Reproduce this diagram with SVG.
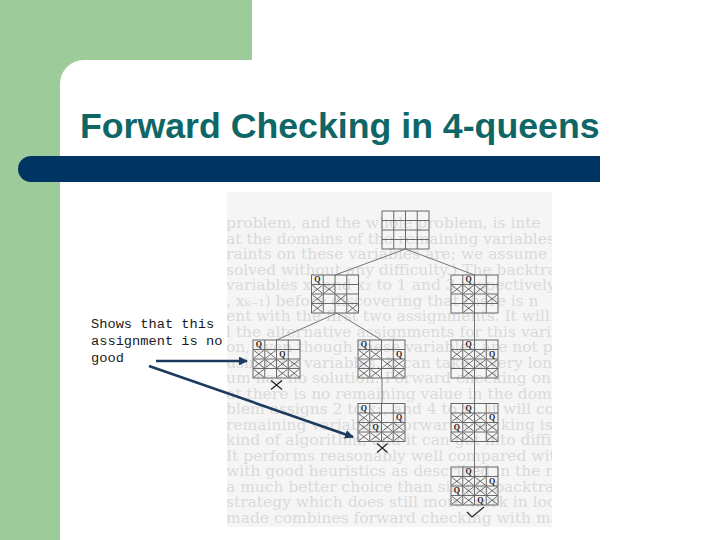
<svg xmlns="http://www.w3.org/2000/svg" xmlns:xlink="http://www.w3.org/1999/xlink" width="720" height="540" viewBox="0 0 720 540">
<style>
.grid{fill:none;stroke:#5a5a5a;stroke-width:0.9}
.xc{fill:none;stroke:#4a4a4a;stroke-width:0.8}
.q{font-family:"Liberation Serif","DejaVu Serif",serif;font-weight:bold;font-size:8px;fill:#222;text-anchor:middle}
.edge{fill:none;stroke:#666;stroke-width:0.9}
.mark{fill:none;stroke:#222;stroke-width:1.2}
.arrow{fill:none;stroke:#1b3a5e;stroke-width:2.6}
.label{font-family:"Liberation Mono","DejaVu Sans Mono",monospace;font-size:13.7px;fill:#1a1a1a}
.faint{font-family:"DejaVu Serif","Liberation Serif",serif;font-size:15.5px;fill:#dadada}
</style>
<defs>
<g id="grid">
<rect class="grid" x="0" y="0" width="47" height="38"/>
<path class="grid" d="M11.75,0V38M23.5,0V38M35.25,0V38M0,9.5H47M0,19H47M0,28.5H47"/>
</g>
<path id="xc" class="xc" d="M0.9,0.9L10.85,8.6M10.85,0.9L0.9,8.6"/>
<marker id="ah" viewBox="0 0 10 10" refX="9" refY="5" markerWidth="3.4" markerHeight="3.4" orient="auto" markerUnits="strokeWidth">
<path d="M0,0L10,5L0,10z" fill="#1b3a5e"/>
</marker>
<clipPath id="scanclip"><rect x="227" y="192" width="325" height="335"/></clipPath>
</defs>

<rect x="0" y="0" width="720" height="540" fill="#ffffff"/>
<g id="frame">
<rect x="0" y="0" width="252" height="90" fill="#9dcb9a"/>
<rect x="0" y="0" width="90" height="540" fill="#9dcb9a"/>
<rect x="60" y="60" width="700" height="520" rx="24" ry="24" fill="#ffffff"/>
<path d="M31,156H600V182H31A13,13 0 0 1 31,156Z" fill="#003462"/>
</g>
<g id="title">
<text x="80" y="138" font-family="Liberation Sans, Arial, sans-serif" font-weight="bold" font-size="35.7" fill="#0f6666">Forward Checking in 4-queens</text>
</g>

<g id="scan">
<rect x="227" y="192" width="325" height="335" fill="#f5f5f5"/>
<g class="faint" clip-path="url(#scanclip)">
<text x="226" y="228">problem, and the whole problem, is inte</text>
<text x="226" y="243.5">at the domains of the remaining variables x₃, …</text>
<text x="226" y="259">raints on these variables are; we assume that t</text>
<text x="226" y="274.5">solved without any difficulty.) The backtrack</text>
<text x="226" y="290">variables x₁ and x₂ to 1 and 3 respectively, w</text>
<text x="226" y="305.5">, xₖ₋₁) before discovering that there is n</text>
<text x="226" y="321">ent with the first two assignments. It will the</text>
<text x="226" y="336.5">l the alternative assignments for this variable, t</text>
<text x="226" y="352">on, even though these variables are not part of</text>
<text x="226" y="367.5">using the variables. It can take a very long</text>
<text x="226" y="383">um has no solution. Forward checking on th</text>
<text x="226" y="398.5">at there is no remaining value in the doma</text>
<text x="226" y="414">blem assigns 2 to x₁, and 4 to x₂, it will cons</text>
<text x="226" y="429.5">remaining variables. Forward checking is not th</text>
<text x="226" y="445">kind of algorithm, and it can get into difficulties</text>
<text x="226" y="460.5">It performs reasonably well compared with oth</text>
<text x="226" y="476">with good heuristics as described in the next s</text>
<text x="226" y="491.5">a much better choice than simple backtrackin</text>
<text x="226" y="507">strategy which does still more work in looking al</text>
<text x="226" y="522.5">made combines forward checking with maintaini</text>
</g>
</g>

<g id="connectors">
<path class="edge" d="M405.5,249L335,275"/>
<path class="edge" d="M405.5,249L474.5,275"/>
<path class="edge" d="M337,313L276.5,340"/>
<path class="edge" d="M337,313L381.5,340"/>
<path class="edge" d="M474.5,313V340"/>
<path class="edge" d="M382,378V403.5"/>
<path class="edge" d="M474.5,378V403.5"/>
<path class="edge" d="M474.5,441.5V467"/>
<path class="arrow" d="M156,361H247" marker-end="url(#ah)"/>
<path class="arrow" d="M149,366L353,437" marker-end="url(#ah)"/>
</g>

<g id="root" transform="translate(382,211)">
<use href="#grid"/>
</g>

<g id="level1-left" transform="translate(311.5,275)">
<use href="#grid"/>
<text class="q" x="5.9" y="7.4">Q</text>
<use href="#xc" x="0" y="9.5"/><use href="#xc" x="0" y="19"/><use href="#xc" x="0" y="28.5"/>
<use href="#xc" x="11.75" y="9.5"/><use href="#xc" x="23.5" y="19"/><use href="#xc" x="35.25" y="28.5"/>
</g>

<g id="level1-right" transform="translate(451,275)">
<use href="#grid"/>
<text class="q" x="17.6" y="7.4">Q</text>
<use href="#xc" x="0" y="9.5"/><use href="#xc" x="11.75" y="9.5"/><use href="#xc" x="23.5" y="9.5"/>
<use href="#xc" x="11.75" y="19"/><use href="#xc" x="11.75" y="28.5"/><use href="#xc" x="35.25" y="19"/>
</g>

<g id="level2-left" transform="translate(253,340)">
<use href="#grid"/>
<text class="q" x="5.9" y="7.4">Q</text>
<text class="q" x="29.4" y="16.9">Q</text>
<use href="#xc" x="0" y="9.5"/><use href="#xc" x="0" y="19"/><use href="#xc" x="0" y="28.5"/>
<use href="#xc" x="11.75" y="9.5"/><use href="#xc" x="23.5" y="19"/><use href="#xc" x="35.25" y="28.5"/>
<use href="#xc" x="11.75" y="19"/><use href="#xc" x="35.25" y="19"/><use href="#xc" x="23.5" y="28.5"/>
<path class="mark" d="M18,40.5L29,49.5M29,40.5L18,49.5"/>
</g>

<g id="level2-middle" transform="translate(358,340)">
<use href="#grid"/>
<text class="q" x="5.9" y="7.4">Q</text>
<text class="q" x="41.1" y="16.9">Q</text>
<use href="#xc" x="0" y="9.5"/><use href="#xc" x="0" y="19"/><use href="#xc" x="0" y="28.5"/>
<use href="#xc" x="11.75" y="9.5"/><use href="#xc" x="23.5" y="19"/><use href="#xc" x="35.25" y="28.5"/>
<use href="#xc" x="35.25" y="19"/><use href="#xc" x="11.75" y="28.5"/>
</g>

<g id="level2-right" transform="translate(451,340)">
<use href="#grid"/>
<text class="q" x="17.6" y="7.4">Q</text>
<text class="q" x="41.1" y="16.9">Q</text>
<use href="#xc" x="0" y="9.5"/><use href="#xc" x="11.75" y="9.5"/><use href="#xc" x="23.5" y="9.5"/>
<use href="#xc" x="11.75" y="19"/><use href="#xc" x="11.75" y="28.5"/><use href="#xc" x="35.25" y="19"/>
<use href="#xc" x="35.25" y="28.5"/><use href="#xc" x="23.5" y="19"/>
</g>

<g id="level3-middle" transform="translate(358,403.5)">
<use href="#grid"/>
<text class="q" x="5.9" y="7.4">Q</text>
<text class="q" x="41.1" y="16.9">Q</text>
<text class="q" x="17.6" y="26.4">Q</text>
<use href="#xc" x="0" y="9.5"/><use href="#xc" x="0" y="19"/><use href="#xc" x="0" y="28.5"/>
<use href="#xc" x="11.75" y="9.5"/><use href="#xc" x="23.5" y="19"/><use href="#xc" x="35.25" y="28.5"/>
<use href="#xc" x="35.25" y="19"/><use href="#xc" x="11.75" y="28.5"/><use href="#xc" x="23.5" y="28.5"/>
<path class="mark" d="M19,40L29.5,49M29.5,40L19,49"/>
</g>

<g id="level3-right" transform="translate(451,403.5)">
<use href="#grid"/>
<text class="q" x="17.6" y="7.4">Q</text>
<text class="q" x="41.1" y="16.9">Q</text>
<text class="q" x="5.9" y="26.4">Q</text>
<use href="#xc" x="0" y="9.5"/><use href="#xc" x="11.75" y="9.5"/><use href="#xc" x="23.5" y="9.5"/>
<use href="#xc" x="11.75" y="19"/><use href="#xc" x="11.75" y="28.5"/><use href="#xc" x="35.25" y="19"/>
<use href="#xc" x="35.25" y="28.5"/><use href="#xc" x="23.5" y="19"/><use href="#xc" x="0" y="28.5"/>
</g>

<g id="level4-right" transform="translate(451,467)">
<use href="#grid"/>
<text class="q" x="17.6" y="7.4">Q</text>
<text class="q" x="41.1" y="16.9">Q</text>
<text class="q" x="5.9" y="26.4">Q</text>
<text class="q" x="29.4" y="35.9">Q</text>
<use href="#xc" x="0" y="9.5"/><use href="#xc" x="11.75" y="9.5"/><use href="#xc" x="23.5" y="9.5"/>
<use href="#xc" x="11.75" y="19"/><use href="#xc" x="11.75" y="28.5"/><use href="#xc" x="35.25" y="19"/>
<use href="#xc" x="35.25" y="28.5"/><use href="#xc" x="23.5" y="19"/><use href="#xc" x="0" y="28.5"/>
<path class="mark" d="M16,45L21,50L33,40"/>
</g>

<g id="label">
<text class="label" x="91" y="328">Shows that this</text>
<text class="label" x="91" y="345">assignment is no</text>
<text class="label" x="91" y="362">good</text>
</g>
</svg>
